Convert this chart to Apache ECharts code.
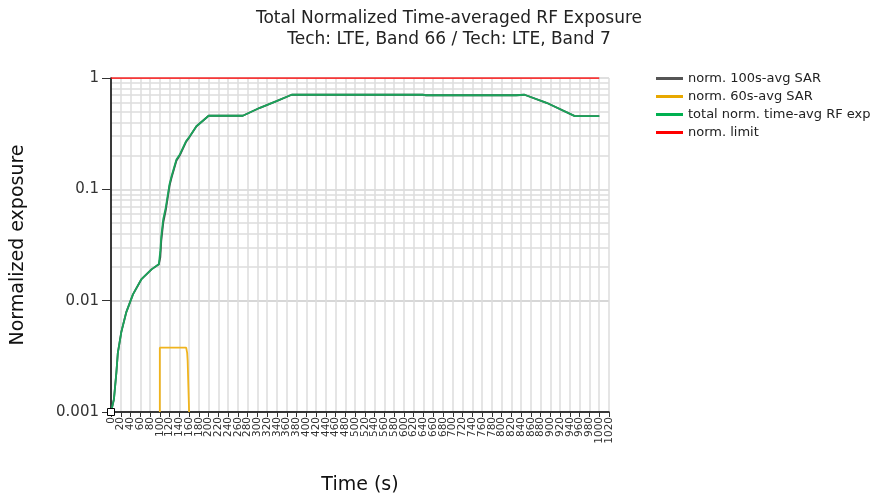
<!DOCTYPE html>
<html>
<head>
<meta charset="utf-8">
<script src="https://cdn.jsdelivr.net/npm/echarts@6/dist/echarts.min.js"></script>
<style>
  html, body { margin: 0; padding: 0; background: #fff; }
  #chart { width: 875px; height: 500px; }
</style>
</head>
<body>
<div id="chart"></div>
<script>
// Total normalized exposure over time (seconds)
const totalTime = [0, 2, 6, 11, 14, 21, 31, 45, 62, 83, 98, 100, 101, 103, 107, 112, 120, 124, 134, 141, 154, 161, 175, 190, 200, 270, 305, 339, 370, 640, 645, 830, 847, 892, 950, 1000];
const totalExp  = [0.001, 0.00104, 0.0013, 0.00226, 0.0034, 0.0052, 0.0078, 0.0114, 0.0155, 0.0191, 0.0212, 0.0216, 0.028, 0.038, 0.054, 0.068, 0.112, 0.131, 0.185, 0.206, 0.272, 0.298, 0.369, 0.42, 0.458, 0.458, 0.54, 0.62, 0.707, 0.707, 0.70, 0.70, 0.707, 0.599, 0.454, 0.454];

// 100 s averaged SAR (normalized)
const sar100Time = [0, 2, 6, 11, 14, 21, 31, 45, 62, 83, 98, 100, 101, 103, 107, 112, 120, 124, 134, 141, 154, 161, 175, 190, 200, 270, 305, 339, 370, 640, 645, 830, 847, 892, 950, 1000];
const sar100     = [0.001, 0.00104, 0.0013, 0.00226, 0.0034, 0.0052, 0.0078, 0.0114, 0.0155, 0.0191, 0.0212, 0.0216, 0.0245, 0.0345, 0.050, 0.064, 0.108, 0.127, 0.181, 0.202, 0.268, 0.296, 0.369, 0.42, 0.458, 0.458, 0.54, 0.62, 0.707, 0.707, 0.70, 0.70, 0.707, 0.599, 0.454, 0.454];

// 60 s averaged SAR (normalized)
const sar60Time = [100, 100, 154, 156, 157, 160, 160];
const sar60     = [0.001, 0.00378, 0.00378, 0.0034, 0.00287, 0.00287, 0.001];

// Normalized limit
const limitTime = [0, 1000];
const limitVal  = [1, 1];

// Time axis tick labels, one every 20 s
const timeTickLabels = ['0', '20', '40', '60', '80', '100', '120', '140', '160', '180', '200', '220', '240', '260', '280', '300',
  '320', '340', '360', '380', '400', '420', '440', '460', '480', '500', '520', '540', '560', '580', '600', '620', '640', '660',
  '680', '700', '720', '740', '760', '780', '800', '820', '840', '860', '880', '900', '920', '940', '960', '980', '1000', '1020'];

// Log grid positions (2..9 within each decade)
const minorGrid = [0.002, 0.003, 0.004, 0.005, 0.006, 0.007, 0.008, 0.009,
                   0.02, 0.03, 0.04, 0.05, 0.06, 0.07, 0.08, 0.09,
                   0.2, 0.3, 0.4, 0.5, 0.6, 0.7, 0.8, 0.9];

const pairs = (xs, ys) => xs.map((x, i) => [x, ys[i]]);

const totalData = pairs(totalTime, totalExp);
totalData[0] = {
  value: totalData[0],
  symbol: 'rect',
  symbolSize: 7,
  itemStyle: { color: '#ffffff', borderColor: '#000000', borderWidth: 1 }
};

const chart = echarts.init(document.getElementById('chart'), null, { renderer: 'canvas' });

chart.setOption({
  animation: false,
  backgroundColor: '#ffffff',
  title: {
    text: 'Total Normalized Time-averaged RF Exposure\nTech: LTE, Band 66 / Tech: LTE, Band 7',
    left: 444,
    top: 3,
    textAlign: 'center',
    textStyle: {
      fontFamily: 'DejaVu Sans',
      fontSize: 17,
      fontWeight: 'normal',
      color: '#222',
      lineHeight: 21
    }
  },
  legend: {
    orient: 'vertical',
    left: 651,
    top: 66,
    itemWidth: 27,
    itemHeight: 3,
    itemGap: 3,
    icon: 'rect',
    textStyle: { fontFamily: 'DejaVu Sans', fontSize: 13, color: '#222', lineHeight: 15 },
    data: ['norm. 100s-avg SAR', 'norm. 60s-avg SAR', 'total norm. time-avg RF exp', 'norm. limit']
  },
  grid: { left: 111, right: 266, top: 78, bottom: 87, containLabel: false },
  xAxis: [
    {
      type: 'value',
      min: 0,
      max: 1020,
      interval: 20,
      name: 'Time (s)',
      nameLocation: 'middle',
      nameGap: 64,
      nameTextStyle: { fontFamily: 'DejaVu Sans', fontSize: 19, color: '#111' },
      axisLine: { lineStyle: { color: '#000', width: 1.5 } },
      axisTick: { length: 5, lineStyle: { color: '#333' } },
      axisLabel: { show: false },
      splitLine: { show: true, lineStyle: { color: '#dcdcdc', width: 1.5 } }
    },
    {
      // label-only axis carrying every 20 s tick label
      type: 'category',
      position: 'bottom',
      data: timeTickLabels,
      boundaryGap: false,
      axisLine: { show: false },
      axisTick: { show: false },
      splitLine: { show: false },
      axisLabel: {
        interval: 0,
        rotate: 90,
        margin: 5,
        fontFamily: 'DejaVu Sans',
        fontSize: 10.5,
        color: '#333'
      }
    }
  ],
  yAxis: {
    type: 'log',
    logBase: 10,
    min: 0.001,
    max: 1,
    name: 'Normalized exposure',
    nameLocation: 'middle',
    nameGap: 83,
    nameTextStyle: { fontFamily: 'DejaVu Sans', fontSize: 19, color: '#111' },
    axisLine: { show: true, lineStyle: { color: '#000', width: 1.5 } },
    axisTick: { show: true, length: 9, lineStyle: { color: '#333' } },
    axisLabel: {
      fontFamily: 'DejaVu Sans',
      fontSize: 15,
      color: '#333',
      margin: 12,
      formatter: v => String(+v.toPrecision(3))
    },
    splitLine: { show: true, lineStyle: { color: '#d4d4d4', width: 1.5 } }
  },
  series: [
    {
      name: 'log grid',
      type: 'line',
      data: [],
      silent: true,
      z: -1,
      markLine: {
        silent: true,
        z: -1,
        symbol: ['none', 'none'],
        label: { show: false },
        lineStyle: { color: '#dcdcdc', width: 1.5, type: 'solid' },
        data: minorGrid.map(v => ({ yAxis: v }))
      }
    },
    {
      name: 'norm. 100s-avg SAR',
      type: 'line',
      color: '#555555',
      data: pairs(sar100Time, sar100),
      showSymbol: false,
      lineStyle: { width: 1.8, color: '#4a4a4a' },
      z: 3
    },
    {
      name: 'norm. 60s-avg SAR',
      type: 'line',
      color: '#e8a800',
      data: pairs(sar60Time, sar60),
      showSymbol: false,
      lineStyle: { width: 1.8, color: '#f0b41e' },
      z: 4
    },
    {
      name: 'total norm. time-avg RF exp',
      type: 'line',
      color: '#00b050',
      data: totalData,
      showSymbol: true,
      symbol: 'none',
      lineStyle: { width: 1.8, color: '#1aa35a' },
      z: 5
    },
    {
      name: 'norm. limit',
      type: 'line',
      color: '#ff0000',
      data: pairs(limitTime, limitVal),
      showSymbol: false,
      lineStyle: { width: 1.5, color: '#ff0000' },
      z: 6
    }
  ]
});
</script>
</body>
</html>
